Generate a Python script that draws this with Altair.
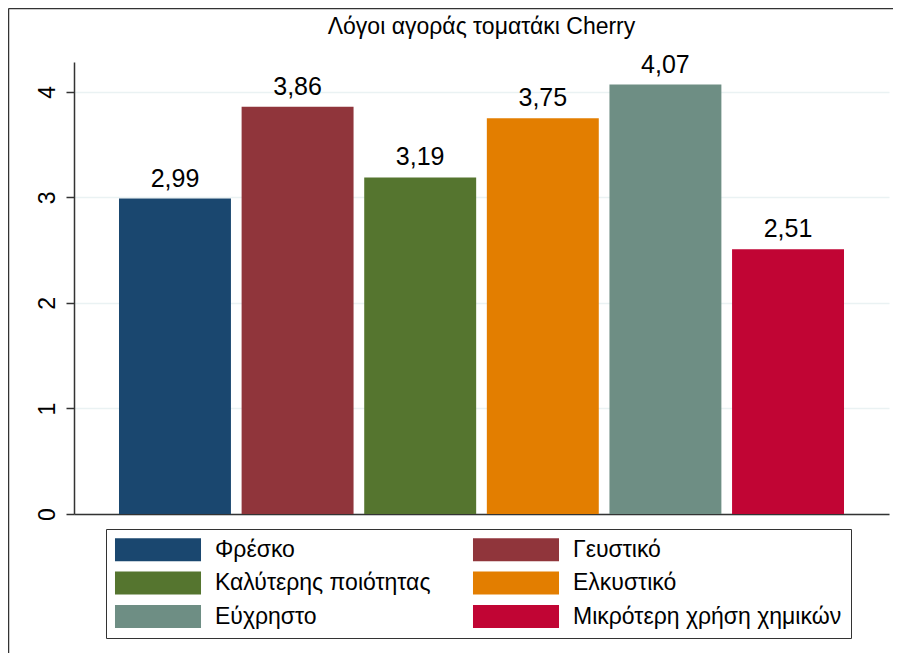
import altair as alt
import pandas as pd

categories = ["Φρέσκο", "Γευστικό", "Καλύτερης ποιότητας", "Ελκυστικό",
              "Εύχρηστο", "Μικρότερη χρήση χημικών"]
values = [2.99, 3.86, 3.19, 3.75, 4.07, 2.51]
colors = ["#1a476f", "#90353b", "#55752f", "#e37e00", "#6e8e84", "#c10534"]
labels = [f"{v:.2f}".replace(".", ",") for v in values]
y_ticks = [0, 1, 2, 3, 4]
y_max = 4.284
title_text = "Λόγοι αγοράς τοματάκι Cherry"

FONT = "Liberation Sans"
DARK = "#333333"

df = pd.DataFrame({"cat": categories, "val": values, "lab": labels})

x_enc = alt.X(
    "cat:N", sort=categories,
    scale=alt.Scale(paddingInner=0.087, paddingOuter=0.367),
    axis=alt.Axis(labels=False, ticks=False, title=None, grid=False,
                  domainColor=DARK, domainWidth=1.5),
)
y_enc = alt.Y(
    "val:Q",
    scale=alt.Scale(domain=[0, y_max], nice=False, zero=True),
    axis=alt.Axis(values=y_ticks, format="d", title=None, labelAngle=270,
                  labelAlign="center", labelBaseline="alphabetic",
                  labelFontSize=23, labelFont=FONT, labelColor="black",
                  labelPadding=12, tickSize=8, tickColor=DARK, tickWidth=1.5,
                  domainColor=DARK, domainWidth=1.5,
                  grid=True, gridColor="#eaf2f3", gridWidth=1.5),
)

bars = alt.Chart(df).mark_bar().encode(
    x=x_enc,
    y=y_enc,
    color=alt.Color(
        "cat:N", sort=categories,
        scale=alt.Scale(domain=categories, range=colors),
        legend=alt.Legend(
            orient="none", legendX=32, legendY=467, columns=2, title=None,
            direction="horizontal",
            symbolType="M-3.74,-1H3.74V1H-3.74Z", symbolSize=529,
            symbolOffset=31.5,
            symbolStrokeWidth=0, symbolOpacity=1,
            labelFontSize=23, labelFont=FONT, labelColor="black",
            labelOffset=45.5, labelLimit=500, columnPadding=41, rowPadding=9.5,
            padding=9, strokeColor=DARK, fillColor="white",
        ),
    ),
)

text = alt.Chart(df).mark_text(
    baseline="alphabetic", dy=-12, fontSize=25, font=FONT, color="black"
).encode(x=alt.X("cat:N", sort=categories), y="val:Q", text="lab:N")

frame_src = pd.DataFrame({"f": [0]})
frame_top = alt.Chart(frame_src).mark_rule(stroke=DARK, strokeWidth=1.5).encode(
    x=alt.value(-65.5), x2=alt.value(819), y=alt.value(-53.5))
frame_left = alt.Chart(frame_src).mark_rule(stroke=DARK, strokeWidth=1.5).encode(
    x=alt.value(-65.5), y=alt.value(-53.5), y2=alt.value(591))

chart = alt.layer(frame_top, frame_left, bars, text).properties(
    width=815, height=452,
    padding={"left": 66, "top": 54, "right": 4, "bottom": 139},
    autosize=alt.AutoSizeParams(type="none"),
    title=alt.TitleParams(title_text, fontSize=23, font=FONT, fontWeight="normal",
                          color="black", anchor="middle", frame="group",
                          baseline="alphabetic", offset=-49),
).configure_view(stroke=None)

chart.save("out.html", embed_options={"renderer": "svg", "actions": False})
